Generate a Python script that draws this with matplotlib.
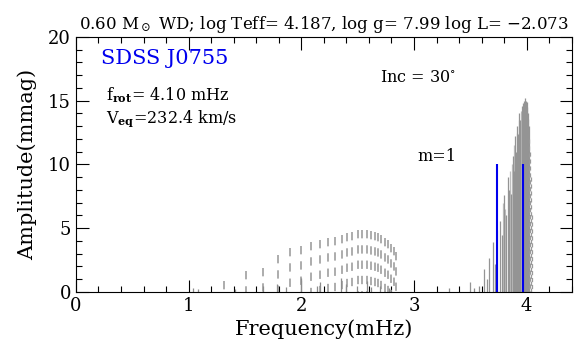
import numpy as np
import matplotlib
matplotlib.use("Agg")
import matplotlib.pyplot as plt
from matplotlib.ticker import MultipleLocator

plt.rcParams['font.family'] = 'serif'
plt.rcParams['font.serif'] = ['DejaVu Serif']
plt.rcParams['mathtext.fontset'] = 'dejavuserif'
plt.rcParams['lines.scale_dashes'] = False

# Данные: группа g-мод (пунктир)
gmode_freq = [1.31, 1.51, 1.66, 1.79, 1.90, 2.00, 2.09, 2.17, 2.24, 2.30, 2.36, 2.41,
              2.45, 2.50, 2.54, 2.58, 2.62, 2.65, 2.68, 2.71, 2.74, 2.77, 2.80, 2.82, 2.84]
gmode_amp = [0.9, 1.65, 1.9, 2.9, 3.45, 3.6, 3.9, 4.1, 4.26, 4.34, 4.47, 4.65,
             4.73, 4.86, 4.9, 4.85, 4.8, 4.7, 4.6, 4.45, 4.25, 4.05, 3.8, 3.5, 3.1]

# мелкие линии у нуля
small_freq = [1.04, 1.08, 1.41, 1.66, 1.78, 1.86, 2.00, 2.14, 2.17, 2.35, 2.40, 2.49,
              2.58, 2.62, 2.70, 2.78, 3.31, 3.53, 3.58]
small_amp = [0.3, 0.2, 0.2, 0.5, 0.6, 0.4, 1.1, 0.5, 0.8, 1.1, 0.6, 0.5,
             0.9, 0.4, 0.5, 0.3, 0.3, 0.3, 0.5]

# плотная группа p-мод около 4 мГц
dense_freq = [3.50, 3.62, 3.65, 3.67, 3.70, 3.72, 3.76, 3.78, 3.80, 3.82, 3.83, 3.845,
              3.86, 3.875, 3.885, 3.895, 3.905, 3.915, 3.925, 3.935, 3.945, 3.955,
              3.96, 3.965, 3.975, 3.98, 3.985, 3.99, 3.995, 4.00, 4.005, 4.01, 4.015, 4.02]
dense_amp = [0.8, 1.8, 1.0, 2.7, 3.9, 2.2, 5.6, 4.5, 7.6, 6.0, 9.0, 8.0,
             7.7, 10.7, 9.5, 12.2, 11.0, 13.0, 12.4, 14.0, 13.5, 14.6,
             14.2, 14.8, 15.0, 14.7, 15.2, 15.0, 14.8, 14.9, 14.5, 14.0, 13.6, 13.0]
light_freq = [3.74, 3.79, 3.81, 3.85, 3.87, 3.89, 3.91, 3.93, 3.95, 3.97]
light_amp = [4.9, 7.0, 6.5, 9.5, 10.0, 11.5, 12.5, 13.5, 14.2, 14.5]

edge_freq = [4.025, 4.033, 4.042, 4.05]
edge_amp = [12.0, 11.0, 9.0, 6.0]

# m=1 (синие)
m1_freq = [3.735, 3.97]
m1_amp = [10.0, 10.0]

fig = plt.figure(figsize=(5.84, 3.47), dpi=100)
ax = fig.add_axes([0.130, 0.1585, 0.849, 0.735])

# пунктир рисуем сверху вниз, чтобы вершина была штрихом
ax.vlines(gmode_freq, gmode_amp, 0, color='0.62', lw=1.2, linestyles=[(0, (6, 5))])
ax.vlines(small_freq, 0, small_amp, color='0.55', lw=0.9)
ax.vlines(light_freq, 0, light_amp, color='0.75', lw=0.9)
ax.vlines(dense_freq, 0, dense_amp, color='0.58', lw=0.9)
ax.vlines(edge_freq, edge_amp, 0, color='0.6', lw=0.9, linestyles=[(0, (3, 2))])
ax.vlines(m1_freq, 0, m1_amp, color='#0000ee', lw=1.5)

ax.set_xlim(0, 4.4)
ax.set_ylim(0, 20)
ax.xaxis.set_major_locator(MultipleLocator(1))
ax.xaxis.set_minor_locator(MultipleLocator(0.2))
ax.yaxis.set_major_locator(MultipleLocator(5))
ax.yaxis.set_minor_locator(MultipleLocator(1))
ax.tick_params(which='both', direction='in', top=True, right=True, labelsize=13, width=0.8)
ax.tick_params(which='major', length=9)
ax.tick_params(which='minor', length=4.5)

ax.set_xlabel('Frequency(mHz)', fontsize=15, labelpad=3)
ax.set_ylabel('Amplitude(mmag)', fontsize=15, labelpad=8)
ax.set_title(r'0.60 M$_\odot$ WD; log Teff= 4.187, log g= 7.99 log L= $-$2.073',
             fontsize=12, pad=6)

ax.text(0.22, 18.3, 'SDSS J0755', color='#0000ee', fontsize=15, va='center')
ax.text(0.27, 15.4, r'f$_{\bf rot}$= 4.10 mHz', fontsize=11.5, va='center')
ax.text(0.27, 13.6, r'V$_{\bf eq}$=232.4 km/s', fontsize=11.5, va='center')
ax.text(2.7, 16.8, r'Inc = 30$^{\circ}$', fontsize=11.5, va='center')
ax.text(3.03, 10.6, 'm=1', fontsize=11.5, va='center')

fig.savefig('out.png', dpi=100)
